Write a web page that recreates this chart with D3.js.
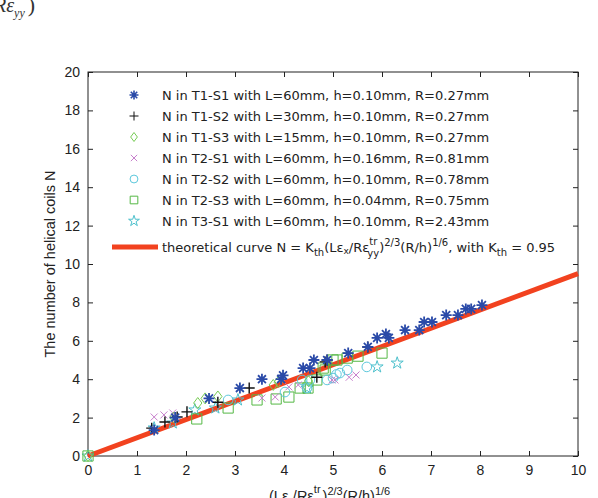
<!DOCTYPE html>
<html>
<head>
<meta charset="utf-8"/>
<script src="https://d3js.org/d3.v7.min.js"></script>
<style>
    body { margin: 0; background: #fff; }
    svg { display: block; }
    .tick text { font-family: "Liberation Sans", Arial, sans-serif; font-size: 14px; fill: #222; }
    .tick line { stroke: #222; }
    .domain { display: none; }
</style>
</head>
<body>
<svg id="chart" width="598" height="498"></svg>
<script>

var t1s1 = [[1.35,1.35],[1.78,2.0],[2.47,3.0],[3.1,3.54],[3.55,4.0],[3.94,4.0],[3.98,4.2],[4.39,4.58],[4.53,4.58],
            [4.61,5.0],[4.88,5.0],[5.31,5.36],[5.71,5.68],[5.9,6.15],[6.08,6.35],[6.14,6.15],[6.47,6.56],[6.76,6.56],
            [6.86,6.98],[7.02,6.98],[7.31,7.34],[7.55,7.34],[7.71,7.66],[7.82,7.66],[8.04,7.86]];
var t1s2 = [[1.3,1.45],[1.57,1.77],[1.82,2.03],[2.02,2.3],[2.65,2.8],[3.29,3.54],[4.67,4.1],[4.84,4.9],[4.88,5.0],[5.71,5.68]];
var t1s3 = [[0,0],[1.75,2.0],[2.24,2.76],[2.39,3.0],[2.65,3.1],[3.78,3.7],[3.88,3.85],[4.5,3.9]];
var t2s1 = [[1.35,2.03],[1.55,2.14],[1.73,2.24],[3.55,3.02],[3.82,3.07],[4.1,3.6],[4.29,3.7],[4.98,3.96],[5.04,3.96],[5.33,4.1],[5.47,4.22]];
var t2s2 = [[2.86,2.92],[4.02,3.33],[4.37,3.96],[4.47,3.54],[4.53,3.96],[4.88,3.96],[5.0,4.06],[5.07,4.25],[5.14,4.32],[5.29,4.48],[5.69,4.64]];
var t2s3 = [[0,0],[2.22,1.93],[2.86,2.5],[3.45,2.92],[3.84,2.97],[4.1,3.07],[4.33,3.54],[4.49,3.54],[4.67,3.96],
            [4.8,4.58],[4.84,4.48],[5.0,5.0],[5.08,5.0],[5.29,5.1],[5.51,5.2],[6.0,5.36]];
var t3s1 = [[0,0],[1.35,1.46],[1.73,1.72],[2.18,2.4],[2.6,2.5],[3.06,2.92],[4.47,3.54],[5.9,4.64],[6.31,4.84]];

var seriesNames = [
    "N in T1-S1 with L=60mm, h=0.10mm, R=0.27mm",
    "N in T1-S2 with L=30mm, h=0.10mm, R=0.27mm",
    "N in T1-S3 with L=15mm, h=0.10mm, R=0.27mm",
    "N in T2-S1 with L=60mm, h=0.16mm, R=0.81mm",
    "N in T2-S2 with L=60mm, h=0.10mm, R=0.78mm",
    "N in T2-S3 with L=60mm, h=0.04mm, R=0.75mm",
    "N in T3-S1 with L=60mm, h=0.10mm, R=2.43mm"
];
var seriesData = [t1s1, t1s2, t1s3, t2s1, t2s2, t2s3, t3s1];
var markers = ["asterisk", "plus", "diamond", "cross", "circle", "square", "star"];
var colors = ["#2a4aa8", "#111111", "#77cc55", "#c77fcc", "#5cc8dc", "#55b845", "#4cc0cc"];

var kth = 0.95;
var xTicks = [0,1,2,3,4,5,6,7,8,9,10];
var yTicks = [0,2,4,6,8,10,12,14,16,18,20];

var svg = d3.select("#chart");
var x = d3.scaleLinear().domain([0, 10]).range([88, 578]);
var y = d3.scaleLinear().domain([0, 20]).range([456, 72]);

// cropped fragment of an equation from the page above
var frag = svg.append("text").attr("font-family", "Liberation Serif, serif").attr("fill", "#333");
frag.append("tspan").attr("x", -6).attr("y", 12).attr("font-size", 20).attr("font-style", "italic").text("Rε");
frag.append("tspan").attr("dy", 5).attr("font-size", 12).attr("font-style", "italic").text("yy");
frag.append("tspan").attr("dy", -5).attr("dx", 3).attr("font-size", 22).text(")");

// frame
svg.append("rect").attr("x", 88).attr("y", 72).attr("width", 490).attr("height", 384)
    .attr("fill", "none").attr("stroke", "#222").attr("stroke-width", 1);

// axes, ticks inside
svg.append("g").attr("transform", "translate(0,456)")
    .call(d3.axisBottom(x).tickValues(xTicks).tickSizeInner(-5).tickSizeOuter(0).tickPadding(9));
svg.append("g").attr("transform", "translate(0,72)")
    .call(d3.axisTop(x).tickValues(xTicks).tickSizeInner(-5).tickSizeOuter(0).tickFormat(""));
svg.append("g").attr("transform", "translate(88,0)")
    .call(d3.axisLeft(y).tickValues(yTicks).tickSizeInner(-5).tickSizeOuter(0).tickPadding(8));
svg.append("g").attr("transform", "translate(578,0)")
    .call(d3.axisRight(y).tickValues(yTicks).tickSizeInner(-5).tickSizeOuter(0).tickFormat(""));

// axis labels
svg.append("text").attr("transform", "translate(55,264) rotate(-90)").attr("text-anchor", "middle")
    .attr("font-family", "Liberation Sans, Arial, sans-serif").attr("font-size", 14.5).attr("fill", "#222")
    .text("The number of helical coils N");

var xl = svg.append("text").attr("x", 269).attr("y", 501)
    .attr("font-family", "Liberation Sans, Arial, sans-serif").attr("font-size", 14.5).attr("fill", "#222");
xl.append("tspan").text("(Lε");
xl.append("tspan").attr("font-size", 9).attr("dy", 3).text("x");
xl.append("tspan").attr("dy", -3).text("/Rε");
xl.append("tspan").attr("font-size", 11).attr("dy", -8).text("tr");
xl.append("tspan").attr("font-size", 11).attr("dx", -9).attr("dy", 13).text("yy");
xl.append("tspan").attr("dy", -5).text(")");
xl.append("tspan").attr("font-size", 11).attr("dy", -6).text("2/3");
xl.append("tspan").attr("dy", 6).text("(R/h)");
xl.append("tspan").attr("font-size", 11).attr("dy", -6).text("1/6");

// marker shapes
function markerPath(type, s) {
    var h = s / 2;
    if (type == "asterisk") {
        var a = h * 0.72;
        return "M" + (-h) + ",0L" + h + ",0M0," + (-h) + "L0," + h +
            "M" + (-a) + "," + (-a) + "L" + a + "," + a + "M" + (-a) + "," + a + "L" + a + "," + (-a);
    }
    if (type == "plus") return "M" + (-h) + ",0L" + h + ",0M0," + (-h) + "L0," + h;
    if (type == "cross") {
        var c = h * 0.7;
        return "M" + (-c) + "," + (-c) + "L" + c + "," + c + "M" + (-c) + "," + c + "L" + c + "," + (-c);
    }
    if (type == "diamond") return "M0," + (-h) + "L" + (h * 0.75) + ",0L0," + h + "L" + (-h * 0.75) + ",0Z";
    if (type == "square") { var q = h * 0.85; return "M" + (-q) + "," + (-q) + "H" + q + "V" + q + "H" + (-q) + "Z"; }
    if (type == "circle") return d3.symbol(d3.symbolCircle, s * s * 0.6)();
    if (type == "star") return d3.symbol(d3.symbolStar, s * s * 0.45)();
}

var sizes = [11, 11, 11, 10, 11, 12, 10];
var strokeW = [1.8, 1.4, 1, 1, 1, 1, 1];

// red theoretical line
svg.append("line")
    .attr("x1", x(0)).attr("y1", y(0)).attr("x2", x(10)).attr("y2", y(10 * kth))
    .attr("stroke", "#f2421f").attr("stroke-width", 5);

// draw series in reverse so blue stars end on top
for (var i = seriesData.length - 1; i >= 0; i--) {
    svg.append("g").selectAll("path").data(seriesData[i]).enter().append("path")
        .attr("transform", function (d) { return "translate(" + x(d[0]) + "," + y(d[1]) + ")"; })
        .attr("d", markerPath(markers[i], sizes[i]))
        .attr("fill", "none").attr("stroke", colors[i]).attr("stroke-width", strokeW[i]);
}
// put the red line on top of most markers like the reference
svg.select("line").raise();
svg.selectAll("g").filter(function (d, j) { return false; });

// legend
var leg = svg.append("g").attr("font-family", "DejaVu Sans, sans-serif").attr("font-size", 13).attr("fill", "#222");
seriesNames.forEach(function (name, i) {
    var cy = 95 + i * 21;
    leg.append("path").attr("transform", "translate(134," + cy + ")")
        .attr("d", markerPath(markers[i], 9)).attr("fill", "none")
        .attr("stroke", colors[i]).attr("stroke-width", i == 0 ? 1.6 : 1);
    leg.append("text").attr("x", 162).attr("y", cy + 5).text(name);
});
var ly = 247;
leg.append("line").attr("x1", 112).attr("x2", 158).attr("y1", ly).attr("y2", ly)
    .attr("stroke", "#f2421f").attr("stroke-width", 5);
var lt = leg.append("text").attr("x", 162).attr("y", ly + 5);
lt.append("tspan").text("theoretical curve N = K");
lt.append("tspan").attr("font-size", 10).attr("dy", 4).text("th");
lt.append("tspan").attr("dy", -4).text("(Lε");
lt.append("tspan").attr("font-size", 9).attr("dy", 2).text("x");
lt.append("tspan").attr("dy", -2).text("/Rε");
lt.append("tspan").attr("font-size", 10).attr("dy", -7).text("tr");
lt.append("tspan").attr("font-size", 10).attr("dx", -10).attr("dy", 12).text("yy");
lt.append("tspan").attr("dy", -5).text(")");
lt.append("tspan").attr("font-size", 10).attr("dy", -6).text("2/3");
lt.append("tspan").attr("dy", 6).text("(R/h)");
lt.append("tspan").attr("font-size", 10).attr("dy", -6).text("1/6");
lt.append("tspan").attr("dy", 6).text(", with K");
lt.append("tspan").attr("font-size", 10).attr("dy", 4).text("th");
lt.append("tspan").attr("dy", -4).text(" = 0.95");
</script>
</body>
</html>
